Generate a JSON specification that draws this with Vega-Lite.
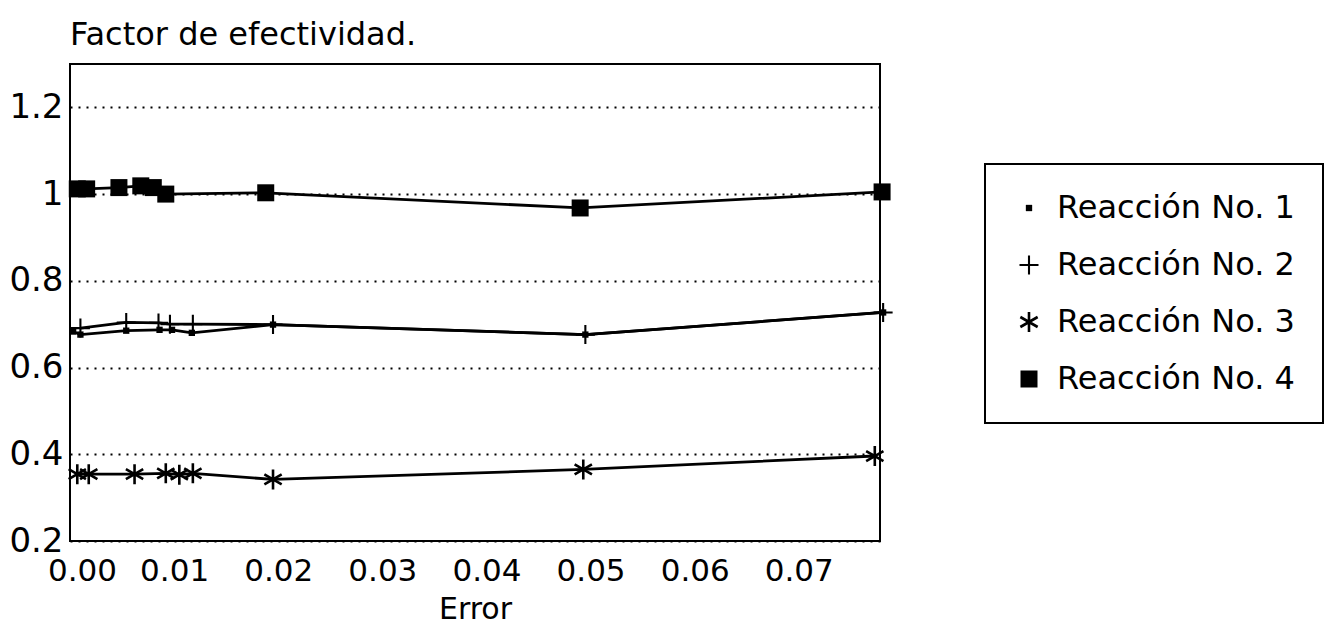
{
  "$schema": "https://vega.github.io/schema/vega-lite/v6.json",
  "width": 810,
  "height": 477,
  "autosize": {"type": "none"},
  "padding": {"left": 70, "top": 64, "right": 462, "bottom": 95},
  "background": "white",
  "title": {"text": "Factor de efectividad.", "anchor": "start", "frame": "group", "fontSize": 32, "fontWeight": "normal", "font": "DejaVu Sans", "color": "black", "offset": 12},
  "config": {
    "font": "DejaVu Sans",
    "view": {"stroke": "black", "strokeWidth": 2},
    "legend": {"strokeColor": "black", "strokeWidth": 2}
  },
  "data": {"values": [
    {"serie": "Reacción No. 1", "error": 0.0003, "factor": 0.683},
    {"serie": "Reacción No. 1", "error": 0.0010, "factor": 0.676},
    {"serie": "Reacción No. 1", "error": 0.0054, "factor": 0.685},
    {"serie": "Reacción No. 1", "error": 0.0086, "factor": 0.687},
    {"serie": "Reacción No. 1", "error": 0.0098, "factor": 0.687},
    {"serie": "Reacción No. 1", "error": 0.0117, "factor": 0.680},
    {"serie": "Reacción No. 1", "error": 0.0195, "factor": 0.699},
    {"serie": "Reacción No. 1", "error": 0.0495, "factor": 0.676},
    {"serie": "Reacción No. 1", "error": 0.0781, "factor": 0.727},
    {"serie": "Reacción No. 2", "error": 0.0010, "factor": 0.691},
    {"serie": "Reacción No. 2", "error": 0.0054, "factor": 0.704},
    {"serie": "Reacción No. 2", "error": 0.0085, "factor": 0.703},
    {"serie": "Reacción No. 2", "error": 0.0096, "factor": 0.700},
    {"serie": "Reacción No. 2", "error": 0.0118, "factor": 0.700},
    {"serie": "Reacción No. 2", "error": 0.0195, "factor": 0.699},
    {"serie": "Reacción No. 2", "error": 0.0495, "factor": 0.676},
    {"serie": "Reacción No. 2", "error": 0.0781, "factor": 0.727},
    {"serie": "Reacción No. 3", "error": 0.0007, "factor": 0.354},
    {"serie": "Reacción No. 3", "error": 0.0018, "factor": 0.354},
    {"serie": "Reacción No. 3", "error": 0.0062, "factor": 0.354},
    {"serie": "Reacción No. 3", "error": 0.0092, "factor": 0.356},
    {"serie": "Reacción No. 3", "error": 0.0105, "factor": 0.353},
    {"serie": "Reacción No. 3", "error": 0.0118, "factor": 0.356},
    {"serie": "Reacción No. 3", "error": 0.0195, "factor": 0.342},
    {"serie": "Reacción No. 3", "error": 0.0493, "factor": 0.365},
    {"serie": "Reacción No. 3", "error": 0.0773, "factor": 0.396},
    {"serie": "Reacción No. 4", "error": 0.0007, "factor": 1.012},
    {"serie": "Reacción No. 4", "error": 0.0016, "factor": 1.012},
    {"serie": "Reacción No. 4", "error": 0.0047, "factor": 1.015},
    {"serie": "Reacción No. 4", "error": 0.0068, "factor": 1.019},
    {"serie": "Reacción No. 4", "error": 0.0080, "factor": 1.015},
    {"serie": "Reacción No. 4", "error": 0.0092, "factor": 1.000},
    {"serie": "Reacción No. 4", "error": 0.0188, "factor": 1.003},
    {"serie": "Reacción No. 4", "error": 0.0490, "factor": 0.968},
    {"serie": "Reacción No. 4", "error": 0.0780, "factor": 1.005}
  ]},
  "encoding": {
    "x": {"field": "error", "type": "quantitative",
      "scale": {"domain": [0, 0.0778], "nice": false, "zero": false},
      "axis": {"title": "Error", "values": [0, 0.01, 0.02, 0.03, 0.04, 0.05, 0.06, 0.07], "format": ".2f", "grid": false, "ticks": false, "domain": false, "labelFontSize": 31, "labelColor": "black", "labelPadding": 15,
        "labelOffset": {"condition": {"test": "datum.value === 0", "value": 12}, "value": 0},
        "labelFlush": false, "labelOverlap": false, "titleFontSize": 30, "titleFontWeight": "normal", "titleColor": "black", "titlePadding": 8}},
    "y": {"field": "factor", "type": "quantitative",
      "scale": {"domain": [0.2, 1.3], "nice": false, "zero": false},
      "axis": {"title": null, "values": [0.2, 0.4, 0.6, 0.8, 1, 1.2], "format": "~g", "grid": true, "gridColor": "black", "gridDash": [2, 6], "gridWidth": 2, "ticks": false, "domain": false, "labelFontSize": 34, "labelColor": "black", "labelPadding": 7, "labelFlush": false, "labelOverlap": false}}
  },
  "layer": [
    {"mark": {"type": "line", "color": "black", "strokeWidth": 2.8}, "encoding": {"detail": {"field": "serie"}}},
    {"mark": {"type": "point", "filled": true, "color": "black", "opacity": 1},
     "encoding": {
       "shape": {"field": "serie", "type": "ordinal",
         "scale": {"domain": ["Reacción No. 1", "Reacción No. 2", "Reacción No. 3", "Reacción No. 4"],
                   "range": ["square",
                             "M-1,-0.11H-0.11V-1H0.11V-0.11H1V0.11H0.11V1H-0.11V0.11H-1Z",
                             "M-0.13,-1H0.13V1H-0.13ZM0.8,0.613L-0.93,-0.387L-0.8,-0.613L0.93,0.387ZM0.93,-0.387L-0.8,0.613L-0.93,0.387L0.8,-0.613Z",
                             "square"]},
         "legend": {"title": null, "orient": "none", "legendX": 915, "legendY": 100, "padding": 28, "strokeColor": "black", "labelFontSize": 32, "labelColor": "black", "labelFont": "DejaVu Sans", "labelOffset": 12, "rowPadding": 25, "symbolFillColor": "black", "symbolOpacity": 1, "labelLimit": 400}},
       "size": {"field": "serie", "type": "ordinal",
         "scale": {"type": "ordinal", "domain": ["Reacción No. 1", "Reacción No. 2", "Reacción No. 3", "Reacción No. 4"],
                   "range": [40, 361, 400, 289]},
         "legend": {"title": null, "orient": "none", "legendX": 915, "legendY": 100, "padding": 28, "strokeColor": "black", "labelFontSize": 32, "labelColor": "black", "labelFont": "DejaVu Sans", "labelOffset": 12, "rowPadding": 25, "symbolFillColor": "black", "symbolOpacity": 1, "labelLimit": 400}}
     }}
  ]
}
